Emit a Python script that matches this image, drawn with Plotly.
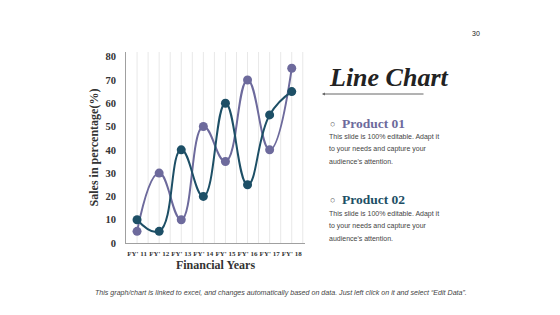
import plotly.graph_objects as go

categories = ["FY' 11", "FY' 12", "FY' 13", "FY' 14", "FY' 15", "FY' 16", "FY' 17", "FY' 18"]
product01 = [5, 30, 10, 50, 35, 70, 40, 75]
product02 = [10, 5, 40, 20, 60, 25, 55, 65]
y_ticks = [0, 10, 20, 30, 40, 50, 60, 70, 80]

C1 = "#6d6a9c"
C2 = "#1d4f66"

W, H = 560, 315
L, R, T, B = 126, 305, 52, 243

def px(x):
    return (x - L) / (R - L)

def py(y):
    return (B - y) / (B - T)

xs = list(range(len(categories)))

fig = go.Figure()
fig.add_trace(go.Scatter(x=xs, y=product01, mode="lines+markers", name="Product 01",
                         line=dict(color=C1, width=2, shape="spline", smoothing=1.3),
                         marker=dict(size=9, color=C1)))
fig.add_trace(go.Scatter(x=xs, y=product02, mode="lines+markers", name="Product 02",
                         line=dict(color=C2, width=2, shape="spline", smoothing=1.3),
                         marker=dict(size=9, color=C2)))

serif = "Liberation Serif"
sans = "Liberation Sans"

fig.update_layout(
    width=W, height=H,
    margin=dict(l=L, r=W - R, t=T, b=H - B, pad=0),
    paper_bgcolor="white", plot_bgcolor="white",
    showlegend=False,
    xaxis=dict(range=[-0.5, 7.6], tickmode="array", tickvals=xs, ticktext=categories,
               showgrid=False, showline=True, linecolor="#a0a0a0", linewidth=1,
               ticks="", zeroline=False, tickangle=0, ticklabelstandoff=4,
               tickfont=dict(family=serif, size=7, color="#333333", weight="bold"),
               title=dict(text="<b>Financial Years</b>", standoff=2,
                          font=dict(family=serif, size=12, color="#333333"))),
    yaxis=dict(range=[0, 82], tickmode="array", tickvals=y_ticks,
               showgrid=False, showline=True, linecolor="#a0a0a0", linewidth=1,
               ticks="", zeroline=False, ticklabelstandoff=7,
               tickfont=dict(family=serif, size=10.5, color="#333333", weight="bold"),
               title=dict(text="<b>Sales in percentage(%)</b>", standoff=4,
                          font=dict(family=serif, size=12, color="#333333"))),
)

# vertical gridlines every half category
shapes = []
k = -0.5
while k <= 7.6:
    if k > -0.5:
        shapes.append(dict(type="line", xref="x", yref="paper", x0=k, x1=k, y0=0, y1=1,
                           line=dict(color="#e8e8e8", width=1), layer="below"))
    k += 0.5
fig.update_layout(shapes=shapes)

ann = []
ann.append(dict(text="<b><i>Line Chart</i></b>", x=px(327), y=py(77), xref="paper", yref="paper",
                xanchor="left", yanchor="middle", showarrow=False,
                font=dict(family=serif, size=26, color="#222222")))
ann.append(dict(text="", x=px(322), y=py(94), xref="paper", yref="paper",
                ax=103, ay=0, axref="pixel", ayref="pixel", showarrow=True,
                arrowhead=2, arrowsize=0.6, arrowwidth=1, arrowcolor="#666666"))

body = ["This slide is 100% editable. Adapt it", "to your needs and capture your", "audience's attention."]
for title, col, ytitle, ylines in [("Product 01", C1, 123, [137, 149, 161]),
                                   ("Product 02", C2, 199, [214, 226, 238])]:
    ann.append(dict(text="○", x=px(328), y=py(ytitle + 1), xref="paper", yref="paper",
                    xanchor="left", yanchor="middle", showarrow=False,
                    font=dict(family=sans, size=9, color="#555555")))
    ann.append(dict(text="<b>" + title + "</b>", x=px(340), y=py(ytitle), xref="paper", yref="paper",
                    xanchor="left", yanchor="middle", showarrow=False,
                    font=dict(family=serif, size=13.5, color=col)))
    for line, yl in zip(body, ylines):
        ann.append(dict(text=line, x=px(327), y=py(yl), xref="paper", yref="paper",
                        xanchor="left", yanchor="middle", showarrow=False,
                        font=dict(family=sans, size=7, color="#444444")))

ann.append(dict(text="<i>This graph/chart is linked to excel, and changes automatically based on data. Just left click on it and select \u201cEdit Data\u201d.</i>",
                x=px(281), y=py(293), xref="paper", yref="paper", xanchor="center", yanchor="middle",
                showarrow=False, font=dict(family=sans, size=7.1, color="#444444")))
ann.append(dict(text="30", x=px(476), y=py(33), xref="paper", yref="paper", xanchor="center",
                yanchor="middle", showarrow=False, font=dict(family=sans, size=7, color="#222222")))
fig.update_layout(annotations=ann)

fig.write_html("out.html")
